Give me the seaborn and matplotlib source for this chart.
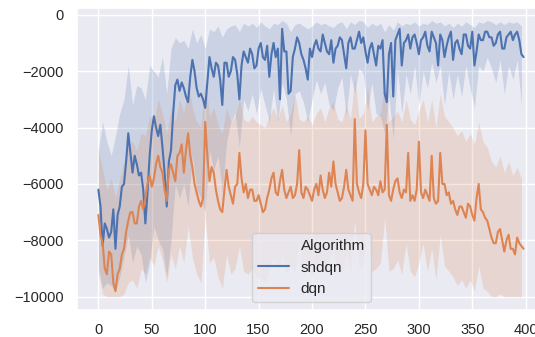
import pandas as pd
import matplotlib
matplotlib.use("Agg")
import matplotlib.pyplot as plt
from matplotlib.lines import Line2D
import seaborn as sns

# mean reward, one value every 2 episodes
episodes = list(range(0, 400, 2))

shdqn_mean = [
    -6200, -6800, -8200, -7400, -7600, -7900, -7700, -6900, -8300, -7100,
    -6800, -6100, -6000, -5200, -4200, -4900, -5600, -5000, -5300, -5700,
    -5600, -6200, -7400, -6300, -5000, -4100, -3600, -4000, -4300, -3900,
    -4700, -5600, -6800, -5200, -4800, -3500, -2500, -2300, -2700, -2400,
    -2600, -2900, -3100, -2200, -1600, -2000, -2600, -2900, -2800, -3000,
    -3300, -2400, -1500, -1900, -2200, -1700, -1800, -2300, -3200, -1700,
    -1700, -2200, -2000, -1500, -1600, -2100, -3000, -1800, -1300, -1500,
    -1700, -1200, -1400, -1900, -1800, -1200, -1000, -1500, -1600, -1100,
    -2200, -1400, -1000, -1500, -1200, -3000, -500, -1300, -1300, -2800,
    -2700, -1500, -1200, -800, -1000, -1400, -1600, -1900, -2300, -1200,
    -1500, -1100, -900, -1200, -1300, -700, -1000, -1300, -1400, -900,
    -1700, -1200, -1100, -800, -900, -1400, -1900, -1000, -800, -1200,
    -1200, -900, -600, -1000, -800, -1300, -1700, -1200, -1000, -1400,
    -1800, -1100, -1200, -900, -2800, -3100, -1400, -1000, -2900, -900,
    -700, -500, -1800, -1000, -900, -700, -1200, -800, -700, -1000,
    -1400, -900, -800, -600, -1100, -1300, -600, -800, -1000, -1800,
    -700, -900, -1500, -1100, -800, -600, -1600, -1000, -900, -1200,
    -1400, -700, -700, -1100, -1200, -600, -1800, -1300, -700, -900,
    -900, -600, -600, -800, -800, -1100, -1000, -700, -600, -1200,
    -1200, -800, -700, -600, -900, -700, -600, -900, -1400, -1500,
]
dqn_mean = [
    -7100, -7800, -8100, -9000, -9200, -8400, -8500, -9500, -9800, -9200,
    -9000, -8500, -8300, -7700, -7300, -7000, -7000, -7400, -7400, -6800,
    -6600, -6900, -6500, -6000, -5700, -6100, -5800, -5300, -5000, -5400,
    -5600, -6200, -6600, -5500, -5300, -5600, -5900, -5000, -4900, -4600,
    -5600, -4800, -4200, -5000, -5400, -6000, -6300, -6600, -6800, -6500,
    -3800, -5000, -5900, -5400, -5600, -6200, -6600, -6900, -7000, -6200,
    -5500, -6100, -6400, -6700, -6100, -6000, -4900, -5800, -6300, -6000,
    -6500, -6200, -6200, -6600, -6600, -6400, -6700, -7000, -6900, -6500,
    -6200, -5800, -5600, -6300, -6400, -5900, -5500, -6200, -6500, -6300,
    -6100, -6500, -6400, -6000, -4800, -6300, -6500, -6100, -6200, -6400,
    -6600, -6200, -6000, -6400, -5700, -6200, -6500, -6300, -5600, -6100,
    -5200, -6000, -6300, -6600, -6500, -6100, -5500, -6200, -6400, -6600,
    -3700, -6000, -6300, -6500, -6000, -4100, -6000, -6200, -6400, -6100,
    -6200, -6400, -5900, -6300, -6200, -3900, -6400, -6600, -6200, -5900,
    -5800, -6300, -6500, -6200, -6300, -4900, -6600, -6400, -6600, -6200,
    -4500, -6300, -6500, -6200, -6400, -6600, -5000, -6500, -6700, -6600,
    -4900, -6000, -6000, -6400, -6300, -6700, -6600, -6900, -7100, -6800,
    -6800, -7000, -7200, -6700, -6800, -7100, -7300, -6500, -6000, -6900,
    -7000, -7200, -7300, -7600, -7900, -8100, -8100, -7700, -7600, -8000,
    -8400, -8000, -7800, -8300, -8300, -8500, -7900, -8100, -8200, -8300,
]

# band edges, one value every 4 episodes
band_episodes = list(range(0, 400, 4))

shdqn_high = [
    -4800, -3800, -4500, -5000, -4300, -3500, -3000, -1800, -3200, -2500,
    -2600, -3000, -1800, -2000, -2200, -1500, -2800, -1200, -800, -1000,
    -900, -1200, -500, -1000, -700, -1200, -500, -600, -400, -800,
    -500, -400, -350, -600, -300, -400, -300, -450, -250, -400,
    -500, -300, -350, -200, -300, -600, -350, -300, -400, -500,
    -400, -250, -350, -300, -400, -450, -300, -250, -500, -250,
    -350, -200, -250, -450, -300, -400, -300, -600, -350, -550,
    -250, -400, -300, -350, -250, -400, -300, -350, -200, -300,
    -250, -400, -300, -450, -300, -400, -250, -350, -450, -250,
    -300, -200, -250, -350, -250, -350, -250, -300, -250, -400,
]
shdqn_low = [
    -9000, -9700, -9500, -9600, -9800, -9300, -8600, -7800, -8800, -8200,
    -8500, -9500, -8800, -7500, -8000, -8300, -9300, -8000, -6000, -6500,
    -6000, -6800, -5000, -6200, -6500, -7000, -4800, -5500, -5000, -6300,
    -4500, -3800, -3500, -4700, -3000, -3400, -2800, -3500, -2600, -3200,
    -3800, -2600, -3800, -2400, -3000, -4300, -2800, -2700, -3100, -3800,
    -3000, -2300, -2800, -2400, -3200, -3400, -2600, -2200, -3600, -2100,
    -2800, -1900, -2100, -3400, -2400, -3500, -3600, -4200, -2900, -4400,
    -1900, -3500, -2100, -2800, -1800, -3200, -2000, -2600, -1700, -2400,
    -1800, -3200, -2000, -3000, -2100, -2900, -1800, -2600, -3300, -1800,
    -2000, -1500, -1900, -2400, -1600, -2800, -1800, -2300, -1600, -3200,
]
dqn_high = [
    -4800, -5500, -6200, -5800, -6500, -5800, -5200, -4600, -4500, -4800,
    -4200, -4300, -3600, -3800, -3000, -3500, -4200, -3300, -3800, -3000,
    -3500, -2400, -3300, -3800, -4000, -2200, -3600, -3300, -3900, -4200,
    -3300, -3800, -3600, -3000, -3700, -3800, -3600, -3800, -3900, -4000,
    -3600, -3300, -3700, -3200, -3800, -3500, -2800, -3700, -3800, -3600,
    -3900, -3500, -3300, -3800, -3300, -3100, -3700, -3800, -3200, -3700,
    -2200, -3700, -3500, -2600, -3800, -3600, -3500, -2400, -3800, -3600,
    -3400, -3800, -3000, -3700, -3900, -3400, -3000, -3800, -3000, -4000,
    -2800, -3600, -3800, -4000, -4300, -4100, -4500, -4200, -4600, -3800,
    -4500, -4700, -5200, -5400, -5000, -5600, -5200, -5700, -5400, -5800,
]
dqn_low = [
    -9200, -9900, -10000, -10000, -10000, -10000, -9900, -9500, -9400, -9700,
    -9000, -9200, -8600, -8900, -8200, -8700, -9500, -8500, -9000, -8200,
    -8800, -7500, -8600, -9200, -9500, -7200, -8800, -8600, -9300, -9700,
    -8500, -9200, -9000, -8200, -9100, -9200, -9000, -9300, -9300, -9500,
    -9000, -8600, -9100, -8500, -9200, -8900, -9100, -8000, -9200, -9000,
    -9300, -8900, -8700, -9200, -8600, -8300, -9000, -9200, -8500, -9100,
    -7300, -9000, -8800, -7600, -9100, -9000, -8800, -7200, -9100, -9000,
    -8700, -9200, -8100, -9100, -9300, -8800, -8100, -9100, -8300, -9400,
    -7800, -8900, -9100, -9300, -9600, -9400, -9700, -9400, -9800, -8900,
    -9700, -9800, -10000, -10000, -9900, -10000, -10000, -10000, -10000, -10000,
]

sns.set_theme(style="darkgrid")
plt.rcParams['font.family'] = ['Liberation Sans', 'DejaVu Sans']
pal = sns.color_palette()

df = pd.DataFrame({
    "Episode": episodes + episodes,
    "Reward": shdqn_mean + dqn_mean,
    "Algorithm": ["shdqn"] * len(episodes) + ["dqn"] * len(episodes),
})

fig = plt.figure(figsize=(5.35, 3.37), dpi=100)
ax = fig.add_axes([77 / 535, 27 / 337, 469 / 535, 302 / 337])

# shaded bands first, lines on top
ax.fill_between(band_episodes, shdqn_low, shdqn_high, color=pal[0], alpha=0.2, linewidth=0)
ax.fill_between(band_episodes, dqn_low, dqn_high, color=pal[1], alpha=0.2, linewidth=0)
sns.lineplot(data=df, x="Episode", y="Reward", hue="Algorithm",
             hue_order=["shdqn", "dqn"], legend=False, ax=ax)

ax.set_xlabel("")
ax.set_ylabel("")
ax.set_xlim(-20, 419)
ax.set_ylim(-10470, 240)
ax.tick_params(labelsize=10.5)

handles = [Line2D([], [], color="none"),
           Line2D([], [], color=pal[0], lw=1.5),
           Line2D([], [], color=pal[1], lw=1.5)]
ax.legend(handles, ["Algorithm", "shdqn", "dqn"], loc="lower center")

fig.savefig("out.png", dpi=100)
